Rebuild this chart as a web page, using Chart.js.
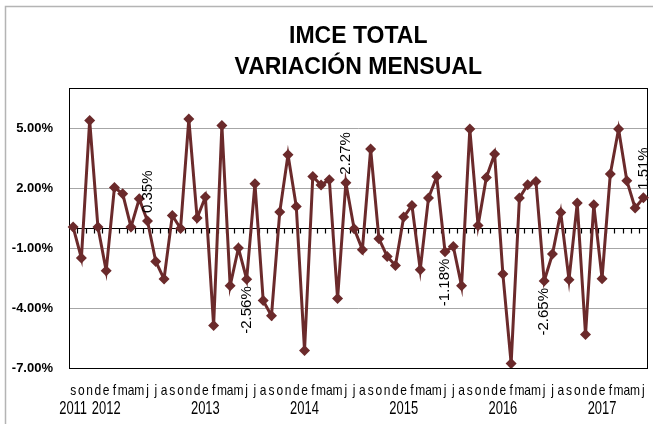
<!DOCTYPE html>
<html>
<head>
<meta charset="utf-8">
<script src="https://cdn.jsdelivr.net/npm/chart.js@4"></script>
<style>
  body { margin: 0; background: #fff; }
  #wrap { width: 653px; height: 424px; position: relative; }
</style>
</head>
<body>
<div id="wrap"><canvas id="chart"></canvas></div>
<script>
// Monthly variation of IMCE, Sep 2011 - Jun 2017 (%)
const monthLetters = ["e", "f", "m", "a", "m", "j", "j", "a", "s", "o", "n", "d"];
const firstMonth = 8; // September
const firstYear = 2011;

const values = [
  0.05, -1.5, 5.38, 0.05,
  -2.14, 2.03, 1.71, 0.05, 1.46, 0.35, -1.67, -2.55, 0.63, -0.02, 5.45, 0.5,
  1.55, -4.87, 5.13, -2.89, -1.0, -2.56, 2.22, -3.63, -4.39, 0.8, 3.67, 1.08,
  -6.12, 2.58, 2.15, 2.42, -3.53, 2.27, -0.03, -1.08, 3.95, -0.53, -1.42, -1.87,
  0.55, 1.13, -2.08, 1.5, 2.58, -1.18, -0.92, -2.89, 4.95, 0.13, 2.53, 3.7,
  -2.3, -6.78, 1.5, 2.17, 2.33, -2.65, -1.3, 0.78, -2.58, 1.25, -5.33, 1.17,
  -2.53, 2.7, 4.95, 2.37, 1.0, 1.51
];

// points that carry a value label (every June + last)
const labeledIdx = [9, 21, 33, 45, 57, 69];

const yTicks = [-7, -4, -1, 2, 5];

// two-line category labels: month letter + year (on first point and each January)
const labels = values.map((v, i) => {
  const m = (firstMonth + i) % 12;
  const y = firstYear + Math.floor((firstMonth + i) / 12);
  return [monthLetters[m], (i === 0 || m === 0) ? String(y) : ""];
});

const lineColor = "#6b2a2b";

const extras = {
  id: "extras",
  beforeDraw(chart) {
    const ctx = chart.ctx;
    ctx.save();
    ctx.strokeStyle = "#b4b4b4";
    ctx.lineWidth = 1.5;
    ctx.strokeRect(5.5, 6.5, 800, 600);
    ctx.restore();
  },
  beforeDatasetsDraw(chart) {
    const ctx = chart.ctx;
    const a = chart.chartArea;
    const x = chart.scales.x;
    const y0 = Math.round(chart.scales.y.getPixelForValue(0)) + 0.5;
    const half = (x.getPixelForValue(1) - x.getPixelForValue(0)) / 2;
    ctx.save();
    ctx.strokeStyle = "#000";
    ctx.lineWidth = 1.2;
    ctx.beginPath();
    ctx.moveTo(a.left, y0);
    ctx.lineTo(a.right, y0);
    for (let i = 1; i < values.length; i++) {
      const bx = Math.round(x.getPixelForValue(i) - half) + 0.5;
      ctx.moveTo(bx, y0);
      ctx.lineTo(bx, y0 + 5);
    }
    ctx.stroke();
    // plot frame
    ctx.lineWidth = 1;
    ctx.strokeRect(Math.round(a.left) + 0.5, Math.round(a.top) + 0.5,
      Math.round(a.right - a.left) - 1, Math.round(a.bottom - a.top));

    // category labels, condensed like the original narrow font
    ctx.fillStyle = "#000";
    ctx.textAlign = "center";
    ctx.textBaseline = "alphabetic";
    labels.forEach((lab, i) => {
      const px = x.getPixelForValue(i);
      ctx.save();
      ctx.translate(px, a.bottom + 27);
      ctx.scale(0.8, 1);
      ctx.font = "15px 'Liberation Sans', Arial, sans-serif";
      ctx.fillText(lab[0], 0, 0);
      ctx.restore();
      if (lab[1]) {
        ctx.save();
        ctx.translate(px, a.bottom + 46);
        ctx.scale(0.72, 1);
        ctx.font = "18px 'Liberation Sans', Arial, sans-serif";
        ctx.fillText(lab[1], 0, 0);
        ctx.restore();
      }
    });
    ctx.restore();
  },
  afterDatasetsDraw(chart) {
    const ctx = chart.ctx;
    const meta = chart.getDatasetMeta(0);
    ctx.save();
    ctx.font = "15px 'Liberation Sans', Arial, sans-serif";
    ctx.fillStyle = "#000";
    ctx.textBaseline = "middle";
    labeledIdx.forEach(i => {
      const pt = meta.data[i];
      const v = values[i];
      const txt = v.toFixed(2) + "%";
      ctx.save();
      ctx.translate(pt.x, pt.y);
      ctx.rotate(-Math.PI / 2);
      if (v >= 0) {
        ctx.textAlign = "left";
        ctx.fillText(txt, 8, 0);
      } else {
        ctx.textAlign = "right";
        ctx.fillText(txt, -7, 0);
      }
      ctx.restore();
    });
    ctx.restore();
  }
};

new Chart(document.getElementById("chart"), {
  type: "line",
  data: {
    labels: labels,
    datasets: [{
      data: values,
      borderColor: lineColor,
      backgroundColor: lineColor,
      borderWidth: 3,
      pointStyle: "rectRot",
      pointRadius: 5.5,
      pointBorderWidth: 0,
      tension: 0
    }]
  },
  options: {
    responsive: true,
    maintainAspectRatio: false,
    animation: false,
    layout: { padding: { left: 0, right: 2, top: 0, bottom: 0 } },
    plugins: {
      legend: { display: false },
      tooltip: { enabled: false },
      title: {
        display: true,
        fullSize: false,
        text: ["IMCE TOTAL", "VARIACIÓN MENSUAL"],
        color: "#000",
        font: { family: "'Liberation Sans', Arial, sans-serif", size: 23, weight: "bold", lineHeight: 1.35 },
        padding: { top: 21, bottom: 5 }
      }
    },
    scales: {
      x: {
        offset: true,
        grid: { display: false },
        border: { display: false },
        ticks: { display: false },
        afterFit: s => { s.height = 56; s.paddingLeft = 0; s.paddingRight = 0; }
      },
      y: {
        min: -7,
        max: 7,
        afterBuildTicks: s => { s.ticks = yTicks.map(v => ({ value: v })); },
        afterFit: s => { s.width = 69; },
        border: { display: false },
        grid: { color: "#a6a6a6", lineWidth: 1, drawTicks: false },
        ticks: {
          padding: 16,
          color: "#000",
          font: { family: "'Liberation Sans', Arial, sans-serif", size: 13, weight: "bold" },
          callback: v => v.toFixed(2) + "%"
        }
      }
    }
  },
  plugins: [extras]
});
</script>
</body>
</html>
